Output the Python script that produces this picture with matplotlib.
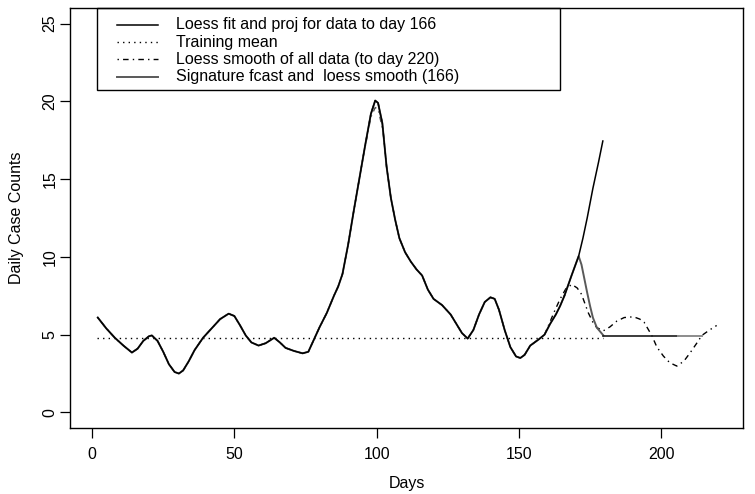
import matplotlib
matplotlib.use("Agg")
import matplotlib.pyplot as plt
from matplotlib.lines import Line2D
from matplotlib.patches import Rectangle

# ==========================================================
# Data
# ==========================================================

fit_days = [2, 5, 8, 11, 14, 16, 18, 20, 21, 23, 25, 27, 29, 30.5, 32, 34, 36,
            39, 42, 45, 48, 50, 52, 54, 56, 58.5, 61, 64, 66, 68, 71, 74, 76,
            78, 80, 82.5, 85, 86.5, 88, 90, 92, 94, 96, 98, 99.5, 100.5, 102,
            103.5, 105, 106.5, 108, 110, 112, 114, 116, 118, 120, 123, 126,
            128, 130, 132, 134, 136, 138, 140, 141.5, 143, 145, 147, 149,
            150.5, 152, 154, 157, 159, 161, 163, 164.5, 166]
fit_vals = [6.1, 5.4, 4.8, 4.3, 3.85, 4.1, 4.6, 4.9, 4.95, 4.6, 3.9, 3.1, 2.6,
            2.5, 2.7, 3.3, 4.0, 4.8, 5.4, 6.0, 6.35, 6.2, 5.6, 4.95, 4.5, 4.3,
            4.45, 4.8, 4.5, 4.15, 3.95, 3.8, 3.9, 4.7, 5.5, 6.4, 7.5, 8.1, 8.9,
            10.8, 13.0, 15.1, 17.2, 19.2, 20.05, 19.9, 18.6, 15.8, 13.8, 12.4,
            11.2, 10.3, 9.7, 9.2, 8.8, 7.9, 7.3, 6.9, 6.3, 5.7, 5.1, 4.75, 5.3,
            6.3, 7.1, 7.4, 7.3, 6.6, 5.3, 4.2, 3.6, 3.5, 3.7, 4.3, 4.7, 5.0,
            5.7, 6.3, 6.85, 7.5]

proj_days = [166, 168.5, 171, 172.5, 174, 176, 178, 179.5]
proj_vals = [7.5, 8.8, 10.05, 11.2, 12.5, 14.4, 16.1, 17.45]

sig_days = [166, 168.5, 171, 172, 173, 174, 175, 176, 177.4, 179.7]
sig_vals = [7.5, 8.8, 10.05, 9.5, 8.6, 7.7, 6.85, 6.1, 5.45, 4.95]

flat_days = [179.7, 206]
flat_vals = [4.92, 4.92]
flat_end_days = [206, 214.3]
flat_end_vals = [4.92, 4.92]

# loess smooth of all data follows the fit up to day 159, then:
all_tail_days = [161, 162.5, 164.5, 166.5, 168.6, 170.5, 172, 174.4, 176,
                 177.4, 179.7, 182, 184.4, 187, 190.3, 192.5, 194, 196.7,
                 198.5, 200.8, 203, 205.5, 208, 210.2, 212.5, 214.3, 217,
                 219.5]
all_tail_vals = [5.85, 6.5, 7.3, 7.95, 8.23, 8.0, 7.6, 6.4, 5.8, 5.45, 5.25,
                 5.5, 5.87, 6.1, 6.15, 6.0, 5.8, 4.95, 4.2, 3.62, 3.2, 2.98,
                 3.3, 3.84, 4.45, 4.95, 5.3, 5.59]
all_peak_days = [96, 98, 99.5, 100.5, 102]
all_peak_vals = [17.1, 19.0, 19.6, 19.5, 18.3]

mean_days = [1.7, 179.5]
mean_vals = [4.8, 4.8]

x_ticks = [0, 50, 100, 150, 200]
y_ticks = [0, 5, 10, 15, 20, 25]

legend_labels = [
    "Loess fit and proj for data to day 166",
    "Training mean",
    "Loess smooth of all data (to day 220)",
    "Signature fcast and  loess smooth (166)",
]

# ==========================================================
# Figure
# ==========================================================

plt.rcParams["font.family"] = ["Liberation Sans", "DejaVu Sans"]

W, H = 755, 494
fig = plt.figure(figsize=(W / 100, H / 100), dpi=100)
ax = fig.add_axes([70 / W, 1 - 428 / H, (743 - 70) / W, (428 - 8) / H])

DOTDASH = (0, (1, 3, 4, 3))
DOTTED = (0, (1, 3))

# loess smooth of all data
n_shared = fit_days.index(159) + 1
all_days = fit_days[:n_shared] + all_tail_days
all_vals = fit_vals[:n_shared] + all_tail_vals
ax.plot(all_days, all_vals, color="black", linewidth=1.0, linestyle=DOTDASH)
ax.plot(all_peak_days, all_peak_vals, color="0.3", linewidth=1.0,
        linestyle=DOTDASH)

# training mean
ax.plot(mean_days, mean_vals, color="black", linewidth=1.0, linestyle=DOTTED)

# signature forecast (grey solid)
ax.plot(fit_days + sig_days[1:], fit_vals + sig_vals[1:],
        color="0.35", linewidth=1.4)
ax.plot(flat_days, flat_vals, color="0.1", linewidth=1.2)
ax.plot(flat_end_days, flat_end_vals, color="0.55", linewidth=1.4)

# loess fit and projection
ax.plot(fit_days, fit_vals, color="black", linewidth=1.1)
ax.plot(proj_days, proj_vals, color="black", linewidth=1.1)

ax.set_xlim(-7.76, 228.76)
ax.set_ylim(-1, 26)

ax.set_xticks(x_ticks)
ax.set_yticks(y_ticks)
ax.tick_params(axis="both", direction="out", length=7, width=0.9,
               labelsize=11.5)
ax.tick_params(axis="x", pad=7)
ax.tick_params(axis="y", pad=2)
for lab in ax.get_yticklabels():
    lab.set_rotation(90)
    lab.set_verticalalignment("center")

for sp in ax.spines.values():
    sp.set_linewidth(1.0)

ax.set_xlabel("Days", fontsize=11.5, labelpad=10)
ax.set_ylabel("Daily Case Counts", fontsize=11.5, labelpad=13)

# ==========================================================
# Legend (R style box)
# ==========================================================

fig.add_artist(Rectangle((97 / W, 1 - 90 / H), (560 - 97) / W, (90 - 8) / H,
                         transform=fig.transFigure, fill=False,
                         edgecolor="black", linewidth=1.0))

legend_styles = [
    dict(color="black", linestyle="-", linewidth=1.1),
    dict(color="black", linestyle=DOTTED, linewidth=1.0),
    dict(color="black", linestyle=DOTDASH, linewidth=1.0),
    dict(color="0.35", linestyle="-", linewidth=1.4),
]

for i, (label, style) in enumerate(zip(legend_labels, legend_styles)):
    y = 1 - (25 + 17.2 * i) / H
    fig.add_artist(Line2D([117 / W, 158 / W], [y, y],
                          transform=fig.transFigure, **style))
    fig.text(176 / W, y, label, fontsize=11.5, va="center", ha="left")

plt.savefig("out.png", dpi=100)
plt.close()
